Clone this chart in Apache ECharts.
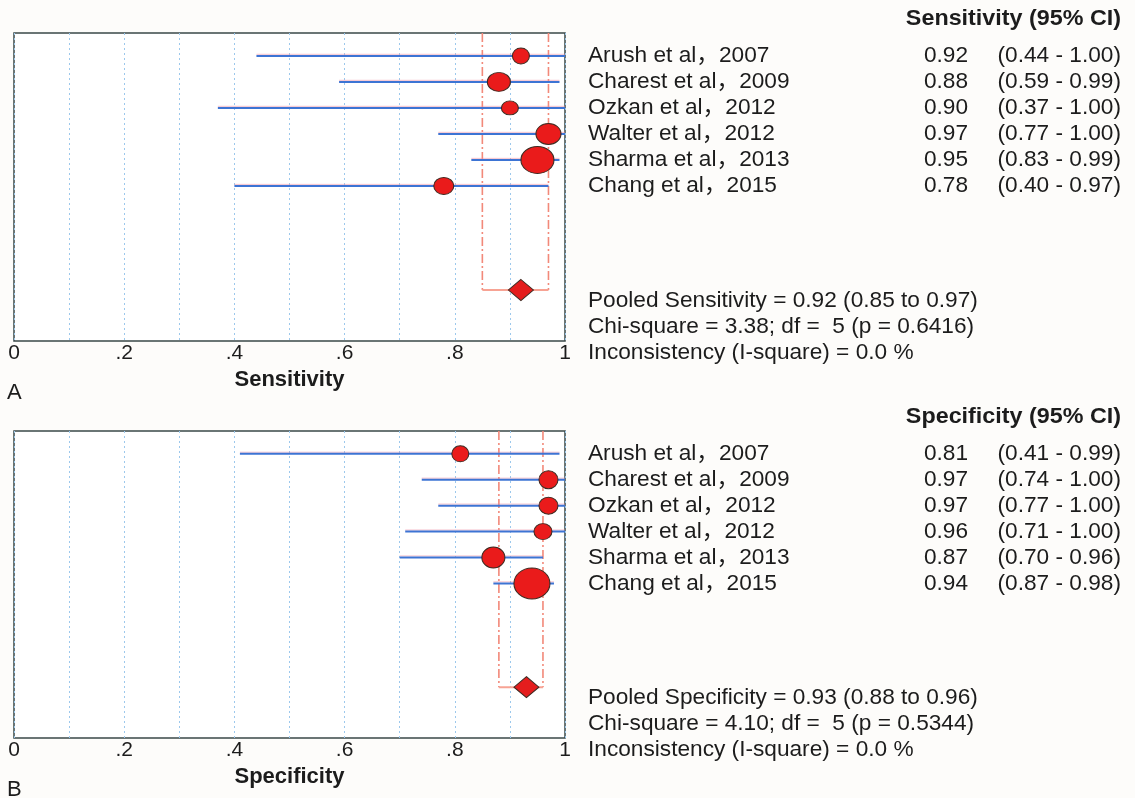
<!DOCTYPE html>
<html><head><meta charset="utf-8">
<script src="https://cdn.jsdelivr.net/npm/echarts@6/dist/echarts.min.js"></script>
<style>html,body{margin:0;padding:0;background:#fdfcfa;}#c{width:1135px;height:798px;}</style>
</head><body><div id="c"></div>
<script>
// ---------- data ----------
const studies = ['Arush et al，2007','Charest et al，2009','Ozkan et al，2012','Walter et al，2012','Sharma et al，2013','Chang et al，2015'];
const sensEst = [0.92,0.88,0.90,0.97,0.95,0.78];
const sensLo  = [0.44,0.59,0.37,0.77,0.83,0.40];
const sensHi  = [1.00,0.99,1.00,1.00,0.99,0.97];
const sensWeight = [[17,16],[23,19],[17,14],[25,21],[33,27],[20,17]];
const sensPooled = [0.92,0.85,0.97];
const sensStats = ['Pooled Sensitivity = 0.92 (0.85 to 0.97)','Chi-square = 3.38; df =  5 (p = 0.6416)','Inconsistency (I-square) = 0.0 %'];

const specEst = [0.81,0.97,0.97,0.96,0.87,0.94];
const specLo  = [0.41,0.74,0.77,0.71,0.70,0.87];
const specHi  = [0.99,1.00,1.00,1.00,0.96,0.98];
const specWeight = [[17,16],[19,18],[19,17],[18,16],[23,21],[36,31]];
const specPooled = [0.93,0.88,0.96];
const specStats = ['Pooled Specificity = 0.93 (0.88 to 0.96)','Chi-square = 4.10; df =  5 (p = 0.5344)','Inconsistency (I-square) = 0.0 %'];

const xTickLabels = ['0','.2','.4','.6','.8','1'];
const panelTitles = ['Sensitivity','Specificity'];
const panelLetters = ['A','B'];
const pooledRow = 9;

// ---------- style ----------
const Y_MIN = -0.88, Y_MAX = 10.96;
const FONT = '"Liberation Sans", Arial, "Noto Sans CJK SC", sans-serif';
const TXT = '#1c1c1c';
const SX = 1.03;
const grids = [{left:14, top:33, width:551, height:308},{left:14, top:431, width:551, height:307}];

const chart = echarts.init(document.getElementById('c'));

function xAxis(i){
  return {type:'value', gridIndex:i, min:0, max:1, interval:0.1,
    name: panelTitles[i], nameLocation:'middle', nameGap:28,
    nameTextStyle:{fontFamily:FONT, fontSize:22, fontWeight:'bold', color:TXT, verticalAlign:'top'},
    axisLine:{show:false}, axisTick:{show:false},
    axisLabel:{margin:2, fontFamily:FONT, fontSize:21, color:TXT,
      formatter: v => { const k = Math.round(v*10); return k%2===0 ? xTickLabels[k/2] : ''; }},
    splitLine:{show:true, lineStyle:{color:'#9cc8ec', type:[2,3], width:1}}
  };
}
function yAxis(i){
  return {type:'value', gridIndex:i, min:Y_MIN, max:Y_MAX, inverse:true, show:false, splitLine:{show:false}};
}

function ciSeries(i, lo, hi){
  return {type:'custom', xAxisIndex:i, yAxisIndex:i, clip:false, z:3,
    data: lo.map((l,k)=>[l, hi[k], k]),
    encode:{x:[0,1], y:2},
    renderItem:(p, api)=>{
      const a = api.coord([api.value(0), api.value(2)]);
      const b = api.coord([api.value(1), api.value(2)]);
      return {type:'group', children:[
        {type:'line', shape:{x1:a[0],y1:a[1]-1.6,x2:b[0],y2:b[1]-1.6}, style:{stroke:'rgba(238,140,160,0.55)', lineWidth:1}},
        {type:'line', shape:{x1:a[0],y1:a[1],x2:b[0],y2:b[1]}, style:{stroke:'#3d74d4', lineWidth:2}}
      ]};
    }};
}
function pooledCiSeries(i, pooled){
  return {type:'custom', xAxisIndex:i, yAxisIndex:i, clip:false, z:2,
    data:[[pooled[1], pooled[2], pooledRow]],
    encode:{x:[0,1], y:2},
    renderItem:(p, api)=>{
      const lo = api.value(0), hi = api.value(1), r = api.value(2);
      const a0 = api.coord([lo, Y_MIN]), a1 = api.coord([lo, r]);
      const b0 = api.coord([hi, Y_MIN]), b1 = api.coord([hi, r]);
      const dash = {stroke:'#f2897a', lineWidth:1.6, lineDash:[9,3,2,3]};
      return {type:'group', children:[
        {type:'line', shape:{x1:a0[0],y1:a0[1],x2:a1[0],y2:a1[1]}, style:dash},
        {type:'line', shape:{x1:b0[0],y1:b0[1],x2:b1[0],y2:b1[1]}, style:dash},
        {type:'line', shape:{x1:a1[0],y1:a1[1],x2:b1[0],y2:b1[1]}, style:{stroke:'#f7a394', lineWidth:2}}
      ]};
    }};
}
function pointSeries(i, est, weight){
  return {type:'scatter', xAxisIndex:i, yAxisIndex:i, z:4, silent:true,
    data: est.map((e,k)=>({value:[e,k], symbolSize:weight[k]})),
    itemStyle:{color:'#ea1b1b', borderColor:'#3d2b22', borderWidth:1, opacity:1}};
}
function diamondSeries(i, pooled){
  return {type:'scatter', xAxisIndex:i, yAxisIndex:i, z:5, silent:true, symbol:'diamond', symbolSize:[25,21],
    data:[[pooled[0], pooledRow]],
    itemStyle:{color:'#e41d1d', borderColor:'#3d2b22', borderWidth:1, opacity:1}};
}

chart.setOption({
  animation:false,
  backgroundColor:'#fdfcfa',
  grid: grids.map(g=>Object.assign({show:true, borderColor:'#3a4848', borderWidth:1.5, backgroundColor:'#ffffff', containLabel:false}, g)),
  xAxis:[xAxis(0), xAxis(1)],
  yAxis:[yAxis(0), yAxis(1)],
  series:[
    pooledCiSeries(0, sensPooled), ciSeries(0, sensLo, sensHi), pointSeries(0, sensEst, sensWeight), diamondSeries(0, sensPooled),
    pooledCiSeries(1, specPooled), ciSeries(1, specLo, specHi), pointSeries(1, specEst, specWeight), diamondSeries(1, specPooled)
  ]
});

// ---------- right-side table ----------
const tables = [
  {est:sensEst, lo:sensLo, hi:sensHi, stats:sensStats, header:'Sensitivity (95% CI)'},
  {est:specEst, lo:specLo, hi:specHi, stats:specStats, header:'Specificity (95% CI)'}
];
const graphics = [];
const XN = 588, XE = 968, XC = 1121;
function txt(text, x, y, align, bold, sx){
  return {type:'text', x, y, scaleX: sx || SX, scaleY:1,
    style:{text, x:0, y:0, align, verticalAlign:'middle', fontFamily:FONT, fontSize:22, fontWeight: bold ? 'bold' : 'normal', fill:TXT}};
}
tables.forEach((t, i)=>{
  const yOf = r => chart.convertToPixel({xAxisIndex:i, yAxisIndex:i}, [0, r])[1];
  graphics.push(txt(t.header, XC, grids[i].top-14, 'right', true, 1.06));
  studies.forEach((s,k)=>{
    const y = yOf(k);
    graphics.push(txt(s, XN, y, 'left'));
    graphics.push(txt(t.est[k].toFixed(2), XE, y, 'right'));
    graphics.push(txt('(' + t.lo[k].toFixed(2) + ' - ' + t.hi[k].toFixed(2) + ')', XC, y, 'right'));
  });
  t.stats.forEach((s,k)=>{
    graphics.push(txt(s, XN, yOf(pooledRow + 0.42 + k), 'left'));
  });
  graphics.push(txt(panelLetters[i], 7, grids[i].top + grids[i].height + 52, 'left', false, 1));
});
chart.setOption({graphic: graphics});
</script>
</body></html>
